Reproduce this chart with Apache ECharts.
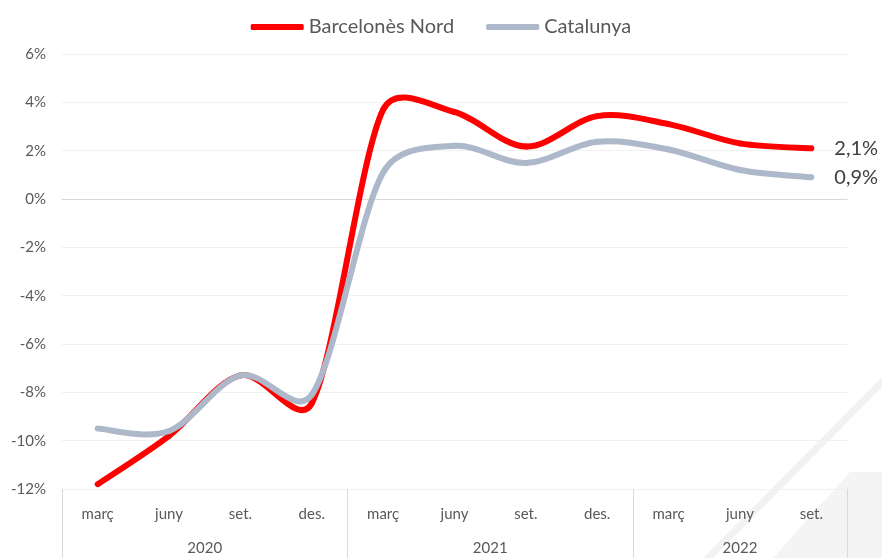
<!DOCTYPE html>
<html>
<head>
<meta charset="utf-8">
<script src="https://cdn.jsdelivr.net/npm/echarts@6/dist/echarts.min.js"></script>
<style>html,body{margin:0;padding:0;background:#fff}#c{width:882px;height:558px}</style>
</head>
<body>
<div id="c"></div>
<script>
const categories = ['març','juny','set.','des.','març','juny','set.','des.','març','juny','set.'];
const years = ['2020','2021','2022'];
const yearCenters = [2, 6, 9.5];
const yearBounds = [0, 4, 8, 11];
const barcelonesNord = [-11.8, -9.8, -7.3, -8.45, 3.7, 3.6, 2.17, 3.43, 3.1, 2.3, 2.1];
const catalunya = [-9.5, -9.6, -7.3, -8.1, 1.1, 2.2, 1.49, 2.37, 2.05, 1.2, 0.9];
const yTicks = [-12, -10, -8, -6, -4, -2, 0, 2, 4, 6];

const FONT = 'Lato';
const chart = echarts.init(document.getElementById('c'));
const splitColors = yTicks.map(v => v === 0 ? '#d9d9d9' : '#f0f0f0');

function fmt(v) { return String(v).replace('.', ',') + '%'; }

// Excel-like smoothed line (Catmull-Rom with handle clamping), drawn through the axes via api.coord
function makeRender(values, color) {
  const CLAMP = 0.4;
  return function (params, api) {
    const i = params.dataIndex;
    const n = values.length;
    const P = k => { const j = Math.max(0, Math.min(n - 1, k)); return api.coord([j, values[j]]); };
    const children = [];
    if (i < n - 1) {
      const p0 = P(i - 1), p1 = P(i), p2 = P(i + 1), p3 = P(i + 2);
      const dist = (a, b) => Math.hypot(a[0] - b[0], a[1] - b[1]);
      const d12 = dist(p1, p2), d02 = dist(p0, p2), d13 = dist(p1, p3);
      let f1 = 1 / 6, f2 = 1 / 6;
      if (d02 / 6 > d12 * CLAMP && d02 > 0) f1 = d12 * CLAMP / d02;
      if (d13 / 6 > d12 * CLAMP && d13 > 0) f2 = d12 * CLAMP / d13;
      children.push({
        type: 'bezierCurve',
        shape: {
          x1: p1[0], y1: p1[1], x2: p2[0], y2: p2[1],
          cpx1: p1[0] + f1 * (p2[0] - p0[0]), cpy1: p1[1] + f1 * (p2[1] - p0[1]),
          cpx2: p2[0] - f2 * (p3[0] - p1[0]), cpy2: p2[1] - f2 * (p3[1] - p1[1])
        },
        style: { stroke: color, lineWidth: 6, lineCap: 'round', fill: null }
      });
    } else {
      const p = P(i);
      children.push({
        type: 'text',
        x: p[0] + 23, y: p[1],
        style: { text: fmt(values[i]), fontFamily: FONT, fontSize: 20, fill: '#404040', verticalAlign: 'middle', align: 'left' }
      });
    }
    return { type: 'group', children: children };
  };
}

chart.setOption({
  animation: false,
  textStyle: { fontFamily: FONT },
  graphic: [
    { type: 'polygon', z: -10, shape: { points: [[703,558],[713,558],[882,387],[882,377]] }, style: { fill: '#f2f2f2' } },
    { type: 'polygon', z: -10, shape: { points: [[850,472],[882,472],[882,558],[773,558]] }, style: { fill: '#f4f4f4' } }
  ],
  legend: {
    top: 12,
    left: 'center',
    icon: 'roundRect',
    itemWidth: 53,
    itemHeight: 6,
    itemGap: 32,
    textStyle: { fontFamily: FONT, fontSize: 20, color: '#595959' },
    data: ['Barcelonès Nord', 'Catalunya']
  },
  grid: { left: 62, right: 35, top: 54, bottom: 69 },
  xAxis: [
    {
      type: 'category',
      data: categories,
      boundaryGap: true,
      axisLine: { show: true, lineStyle: { color: '#d9d9d9', width: 1 } },
      axisTick: { show: false },
      axisLabel: { margin: 18, fontFamily: FONT, fontSize: 15, color: '#595959' },
      splitLine: { show: false }
    },
    {
      type: 'value',
      position: 'bottom',
      min: 0,
      max: 11,
      axisLine: { show: false },
      axisTick: { show: true, length: 70, customValues: yearBounds, lineStyle: { color: '#d9d9d9' } },
      axisLabel: {
        show: true, margin: 52, fontFamily: FONT, fontSize: 15, color: '#595959',
        customValues: yearCenters,
        formatter: v => { const i = yearCenters.indexOf(v); return i >= 0 ? years[i] : ''; }
      },
      splitLine: { show: false }
    }
  ],
  yAxis: {
    type: 'value',
    min: -12,
    max: 6,
    interval: 2,
    axisLine: { show: false },
    axisTick: { show: false },
    axisLabel: { margin: 16, fontFamily: FONT, fontSize: 15, color: '#595959', formatter: v => v + '%' },
    splitLine: { show: true, lineStyle: { color: splitColors, width: 1 } }
  },
  series: [
    {
      name: 'Barcelonès Nord',
      type: 'custom',
      xAxisIndex: 0,
      z: 3,
      clip: false,
      itemStyle: { color: '#ff0000' },
      encode: { x: 0, y: 1 },
      data: barcelonesNord.map((v, i) => [i, v]),
      renderItem: makeRender(barcelonesNord, '#ff0000')
    },
    {
      name: 'Catalunya',
      type: 'custom',
      xAxisIndex: 0,
      z: 4,
      clip: false,
      itemStyle: { color: '#adb9ca' },
      encode: { x: 0, y: 1 },
      data: catalunya.map((v, i) => [i, v]),
      renderItem: makeRender(catalunya, '#adb9ca')
    }
  ]
});
</script>
</body>
</html>
